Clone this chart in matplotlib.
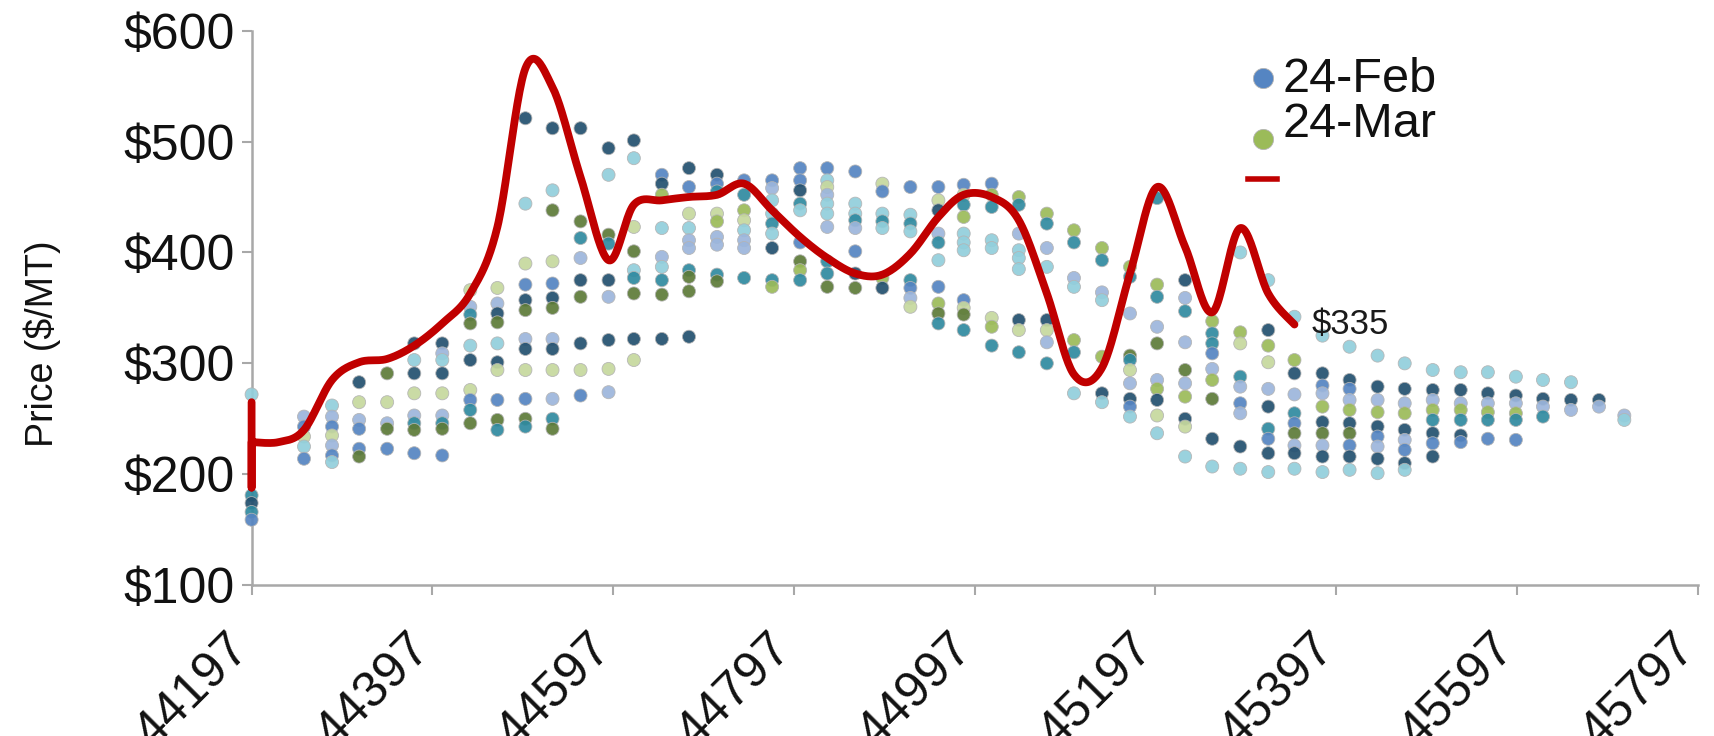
import matplotlib
matplotlib.use("Agg")
import matplotlib.pyplot as plt
import numpy as np
import pandas as pd

plt.rcParams['font.family'] = ['Liberation Sans', 'DejaVu Sans']

# ---------------- data ----------------
delivery_dates = [
    '2021-01-01', '2021-02-28', '2021-03-31', '2021-04-30', '2021-05-31', '2021-06-30',
    '2021-07-31', '2021-08-31', '2021-09-30', '2021-10-31', '2021-11-30', '2021-12-31',
    '2022-01-31', '2022-02-28', '2022-03-31', '2022-04-30', '2022-05-31', '2022-06-30',
    '2022-07-31', '2022-08-31', '2022-09-30', '2022-10-31', '2022-11-30', '2022-12-31',
    '2023-01-31', '2023-02-28', '2023-03-31', '2023-04-30', '2023-05-31', '2023-06-30',
    '2023-07-31', '2023-08-31', '2023-09-30', '2023-10-31', '2023-11-30', '2023-12-31',
    '2024-01-31', '2024-02-29', '2024-03-31', '2024-04-30', '2024-05-31', '2024-06-30',
    '2024-07-31', '2024-08-31', '2024-09-30', '2024-10-31', '2024-11-30', '2024-12-31',
    '2025-01-31', '2025-02-28',
]

forward_prices = [
    [272, 181, 174, 166, 159],
    [252, 243, 234, 225, 214],
    [262, 252, 243, 235, 226, 217, 211],
    [283, 265, 249, 241, 223, 216],
    [291, 265, 246, 241, 223],
    [318, 303, 291, 273, 253, 246, 240, 219],
    [318, 309, 303, 291, 273, 253, 246, 241, 217],
    [366, 351, 344, 336, 316, 303, 276, 267, 258, 246],
    [368, 354, 345, 337, 318, 301, 294, 267, 249, 240],
    [521, 444, 390, 371, 357, 348, 322, 313, 294, 268, 250, 243],
    [512, 456, 438, 392, 372, 359, 350, 322, 313, 294, 268, 250, 241],
    [512, 428, 413, 395, 375, 360, 318, 294, 271],
    [494, 470, 416, 408, 375, 360, 321, 295, 274],
    [501, 485, 423, 401, 384, 377, 363, 322, 303],
    [470, 462, 452, 422, 396, 387, 375, 362, 322],
    [476, 459, 435, 422, 411, 404, 384, 378, 365, 324],
    [470, 462, 455, 435, 428, 414, 407, 380, 374],
    [465, 452, 438, 429, 420, 411, 404, 377],
    [465, 458, 447, 435, 426, 417, 404, 375, 369],
    [476, 465, 456, 444, 438, 409, 392, 384, 375],
    [476, 465, 459, 452, 444, 435, 423, 392, 381, 369],
    [473, 444, 435, 429, 422, 401, 381, 368],
    [462, 455, 435, 428, 422, 377, 368],
    [459, 434, 426, 419, 375, 368, 359, 351],
    [459, 447, 438, 417, 409, 393, 369, 354, 345, 336],
    [461, 452, 443, 432, 417, 409, 402, 357, 350, 344, 330],
    [462, 452, 441, 411, 404, 341, 333, 316],
    [450, 443, 417, 402, 395, 385, 339, 330, 310],
    [435, 426, 404, 387, 339, 330, 319, 300],
    [420, 409, 377, 369, 321, 310, 273],
    [404, 393, 364, 357, 306, 273, 265],
    [387, 378, 345, 307, 303, 294, 282, 268, 261, 252],
    [449, 371, 360, 333, 318, 285, 277, 267, 253, 237],
    [375, 359, 347, 319, 294, 282, 270, 250, 243, 216],
    [338, 327, 318, 309, 295, 285, 268, 232, 207],
    [400, 328, 318, 288, 279, 264, 255, 225, 205],
    [375, 330, 316, 301, 277, 261, 241, 232, 219, 202],
    [342, 303, 291, 272, 255, 246, 237, 226, 219, 205],
    [325, 291, 280, 273, 261, 247, 237, 226, 216, 202],
    [315, 285, 277, 267, 258, 246, 237, 226, 216, 204],
    [307, 279, 267, 256, 243, 234, 225, 214, 201],
    [300, 277, 264, 255, 240, 231, 222, 210, 204],
    [294, 276, 267, 258, 249, 237, 228, 216],
    [292, 276, 264, 258, 249, 235, 229],
    [292, 273, 264, 256, 249, 232],
    [288, 271, 264, 255, 249, 231],
    [285, 268, 261, 252],
    [283, 267, 258],
    [267, 261],
    [253, 249],
]

# one colour code per dot (see PALETTE)
forward_colors = [
    "CTNTB", "LBYCB", "CLBYLBC", "NYLBBG", "GYLGB", "NCNYLTGB", "NLCNYLTGB",
    "YLTGCNYBTG", "YLNGCNYBGT", "NCYBNGLNYBGT", "NCGYBNGLNYLTG", "NGTLNGNYB",
    "NCGTNLNYL", "NCYGCTGNY", "BNMCLCTGN", "NBYCLLTGGN", "NBTYMLLTG", "BTMYCLLT",
    "BLCCTCNTM", "BBNTCBGMT", "BCYLCCLTTG", "BCCTLBNG", "YBCTCMN", "BCTCTBLY",
    "BYNLTCBMGT", "BYTMCCCBYGT", "BMTCCYMT", "MTLCCCNYT", "MTLCNYLT", "MTLCMTC",
    "MTLCMNC", "MTLGTYLNBC", "TMTLGLMNYC", "NLTLGLMNYC", "MTTBLMGNC", "CMYTLBLNC",
    "CNMYLNTBNC", "CMNLTBGLNC", "CNBLMNGLNC", "CNBLMNGBNC", "CNLMNBLNC", "CNLMNLBNC",
    "CNLMTNBN", "CNLMTNB", "CNLMTB", "CNLMTB", "CNLT", "CNL", "NL", "LC",
]

spot_dates = [
    '2021-01-01', '2021-01-01', '2021-01-01',
    '2021-01-31', '2021-02-28', '2021-03-31', '2021-04-30', '2021-05-31', '2021-06-30',
    '2021-07-31', '2021-08-31', '2021-09-30', '2021-10-31', '2021-11-30', '2021-12-31',
    '2022-01-31', '2022-02-28', '2022-03-31', '2022-04-30', '2022-05-31', '2022-06-30',
    '2022-07-31', '2022-08-31', '2022-09-30', '2022-10-31', '2022-11-30', '2022-12-31',
    '2023-01-31', '2023-02-28', '2023-03-31', '2023-04-30', '2023-05-31', '2023-06-30',
    '2023-07-31', '2023-08-31', '2023-09-30', '2023-10-31', '2023-11-30', '2023-12-31',
    '2024-01-31', '2024-02-29',
]
spot_prices = [
    265, 188, 229,
    229, 240, 285, 301, 304, 316,
    336, 363, 423, 566, 549, 468,
    393, 443, 447, 450, 452, 462,
    438, 414, 395, 381, 380, 399,
    432, 452, 450, 429, 363, 290,
    296, 381, 459, 405, 346, 422,
    363, 335,
]

x_ticks = [44197, 44397, 44597, 44797, 44997, 45197, 45397, 45597, 45797]
y_ticks = [100, 200, 300, 400, 500, 600]
legend_labels = ['24-Feb', '24-Mar', '']
spot_label = '$335'
y_label = 'Price ($/MT)'

# ---------------- styling ----------------
PALETTE = {
    'N': '#23506f',  # navy
    'B': '#5585c2',  # mid blue
    'L': '#9cb6dc',  # light blue / lavender
    'T': '#2f8aa0',  # teal
    'C': '#92cfdc',  # light teal
    'G': '#5d7b38',  # olive
    'Y': '#c6d89e',  # pale green
    'M': '#9bbb59',  # lime
}
RED = '#c00000'
AXIS_GRAY = '#a8a8a8'

EPOCH = pd.Timestamp('1899-12-30')


def to_serial(d):
    return (pd.Timestamp(d) - EPOCH).days


def smooth(xs, ys, n=24):
    P = np.column_stack([xs, ys]).astype(float)
    E = np.vstack([P[0], P, P[-1]])
    t = np.linspace(0, 1, n, endpoint=False)[:, None]
    out = []
    for i in range(len(P) - 1):
        p0, p1, p2, p3 = E[i], E[i + 1], E[i + 2], E[i + 3]
        c1 = p1 + (p2 - p0) / 6.0
        c2 = p2 - (p3 - p1) / 6.0
        out.append((1 - t) ** 3 * p1 + 3 * (1 - t) ** 2 * t * c1 + 3 * (1 - t) * t ** 2 * c2 + t ** 3 * p2)
    out.append(P[-1:])
    return np.vstack(out)


fig = plt.figure(figsize=(17.15, 7.36), dpi=100)
ax = fig.add_axes([0.1467, 0.2049, 0.8431, 0.7535])

# scatter of forward curves
xs, ys, cs = [], [], []
for d, prices, codes in zip(delivery_dates, forward_prices, forward_colors):
    xv = to_serial(d)
    for j, p in enumerate(prices):
        xs.append(xv)
        ys.append(p)
        cs.append(PALETTE[codes[j % len(codes)]])
ax.scatter(xs, ys, s=88, c=cs, edgecolors='#b4b4b4', linewidths=0.6,
           alpha=0.92, zorder=3, clip_on=False)

# spot price line
sx = np.array([to_serial(d) for d in spot_dates], dtype=float)
sy = np.array(spot_prices, dtype=float)
curve = smooth(sx[2:], sy[2:])
line_x = np.concatenate([sx[:2], curve[:, 0]])
line_y = np.concatenate([sy[:2], curve[:, 1]])
ax.plot(line_x, line_y, color=RED, lw=5.6, solid_joinstyle='round',
        solid_capstyle='round', zorder=4, clip_on=False)
ax.annotate(spot_label, (sx[-1], sy[-1]), xytext=(12, 0), textcoords='offset points',
            va='center', ha='left', fontsize=25, color='#1a1a1a', zorder=5)

# axes
ax.set_xlim(x_ticks[0], x_ticks[-1])
ax.set_ylim(y_ticks[0], y_ticks[-1])
ax.set_xticks(x_ticks)
ax.set_xticklabels([str(v) for v in x_ticks], rotation=45, ha='right',
                   va='baseline', rotation_mode='anchor')
ax.set_yticks(y_ticks)
ax.set_yticklabels([f'${v}' for v in y_ticks])
for s in ['top', 'right']:
    ax.spines[s].set_visible(False)
for s in ['left', 'bottom']:
    ax.spines[s].set_color(AXIS_GRAY)
    ax.spines[s].set_linewidth(1.8)
ax.tick_params(axis='y', length=7.2, width=1.5, color=AXIS_GRAY, pad=4.8,
               labelsize=36, labelcolor='#111111')
ax.tick_params(axis='x', length=7.2, width=1.5, color=AXIS_GRAY, pad=40,
               labelsize=36, labelcolor='#111111')

fig.text(42 / 1715, 1 - 344 / 736, y_label, rotation=90, ha='center', va='center',
         fontsize=27, color='#111111')

# legend (drawn manually to match the tight layout of the original)
ax.plot([0.6993], [0.914], 'o', ms=14.5, color=PALETTE['B'], mec='#b4b4b4', mew=0.6,
        transform=ax.transAxes, clip_on=False, zorder=6)
ax.text(0.7133, 0.911, legend_labels[0], transform=ax.transAxes, ha='left', va='center',
        fontsize=35, color='#111111')
ax.plot([0.6993], [0.804], 'o', ms=14.5, color=PALETTE['M'], mec='#b4b4b4', mew=0.6,
        transform=ax.transAxes, clip_on=False, zorder=6)
ax.text(0.7133, 0.830, legend_labels[1], transform=ax.transAxes, ha='left', va='center',
        fontsize=35, color='#111111')
ax.plot([0.6892, 0.7093], [0.732, 0.732], color=RED, lw=4.0,
        transform=ax.transAxes, clip_on=False, zorder=6)
ax.text(0.7133, 0.732, legend_labels[2], transform=ax.transAxes, ha='left', va='center',
        fontsize=35)

fig.savefig('out.png', dpi=100, facecolor='white')
